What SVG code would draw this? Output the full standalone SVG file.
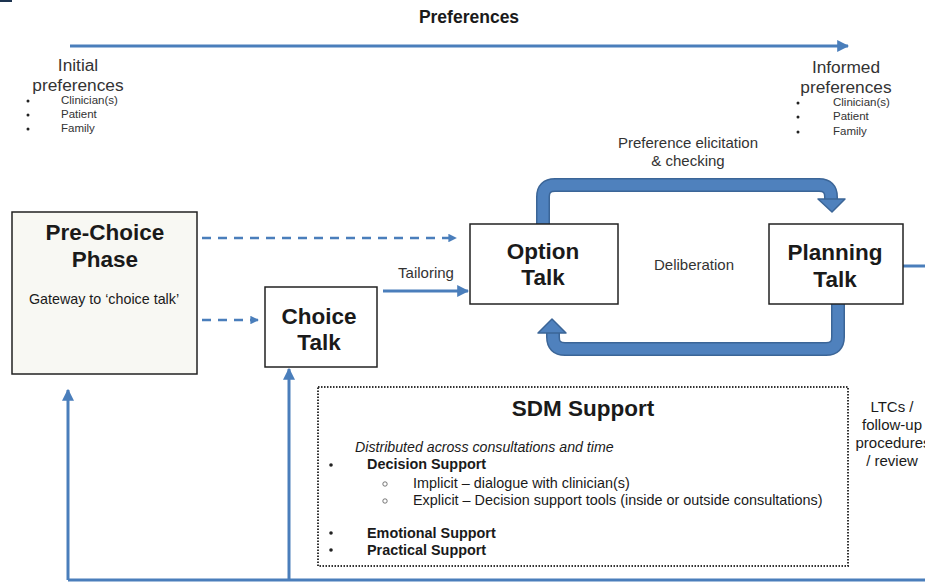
<svg xmlns="http://www.w3.org/2000/svg" width="925" height="583" viewBox="0 0 925 583">
<style>
text{font-family:"Liberation Sans",Arial,sans-serif;fill:#1a1a1a}
.box{fill:#fff;stroke:#222;stroke-width:1.5}
.title{font-weight:bold;font-size:22.5px;text-anchor:middle}
.lbl{font-size:15px;fill:#333}
.pref{font-size:17.3px;text-anchor:middle;fill:#333}
.sm{font-size:11.5px;fill:#333}
.line{fill:none;stroke:#4a7ebb;stroke-width:3}
.dash{fill:none;stroke:#4a7ebb;stroke-width:2.5;stroke-dasharray:9 7}
.band{fill:none;stroke:#3b6597;stroke-width:14}
.bandin{fill:none;stroke:#4f81bd;stroke-width:11}
.head{fill:#4f81bd;stroke:#3b6597;stroke-width:1.5;stroke-linejoin:round}
.sdm{font-size:14.4px}
.b{font-weight:bold}
</style>
<defs>
<marker id="ah" viewBox="0 0 10 10" refX="9" refY="5" markerWidth="4" markerHeight="4" orient="auto" markerUnits="strokeWidth"><path d="M0,0 L10,5 L0,10 z" fill="#4a7ebb"/></marker>
<marker id="ahs" viewBox="0 0 10 10" refX="9" refY="5" markerWidth="3.4" markerHeight="3.4" orient="auto" markerUnits="strokeWidth"><path d="M0,0 L10,5 L0,10 z" fill="#4a7ebb"/></marker>
</defs>
<rect width="925" height="583" fill="#fff"/>
<rect x="0" y="0" width="12" height="2" fill="#1d3450"/>

<g id="preferences">
<text x="469" y="23" class="b" font-size="17.5" text-anchor="middle">Preferences</text>
</g>
<g id="initial-preferences">
<text x="78" y="71" class="pref">Initial</text>
<text x="78" y="91" class="pref">preferences</text>
<circle cx="28" cy="101" r="1.5" fill="#222"/><text x="61" y="104" class="sm">Clinician(s)</text>
<circle cx="28" cy="115" r="1.5" fill="#222"/><text x="61" y="118" class="sm">Patient</text>
<circle cx="28" cy="129" r="1.5" fill="#222"/><text x="61" y="132" class="sm">Family</text>
</g>
<g id="informed-preferences">
<text x="846" y="73" class="pref">Informed</text>
<text x="846" y="93" class="pref">preferences</text>
<circle cx="798" cy="103" r="1.5" fill="#222"/><text x="833" y="106" class="sm">Clinician(s)</text>
<circle cx="798" cy="117" r="1.5" fill="#222"/><text x="833" y="120" class="sm">Patient</text>
<circle cx="798" cy="132" r="1.5" fill="#222"/><text x="833" y="135" class="sm">Family</text>
</g>

<g id="connectors">
<path class="line" d="M70,46 H848" marker-end="url(#ah)"/>
<path class="dash" d="M202,238 H456" marker-end="url(#ahs)"/>
<path class="dash" d="M202,320 H258" marker-end="url(#ahs)"/>
<path class="line" d="M383,291 H468" marker-end="url(#ah)"/>
<path class="line" d="M903,266 H925"/>
<path class="line" d="M68,580 H925"/>
<path class="line" d="M68,580 V390" marker-end="url(#ah)"/>
<path class="line" d="M289,580 V369" marker-end="url(#ah)"/>
<path class="band" d="M543,224 V197 Q543,185 555,185 H819 Q831,185 831,197 V201"/>
<path class="bandin" d="M543,224 V197 Q543,185 555,185 H819 Q831,185 831,197 V203"/>
<polygon class="head" points="818,199 845,199 832,212"/>
<path class="band" d="M838,304 V337 Q838,349 826,349 H565 Q553,349 553,337 V333"/>
<path class="bandin" d="M838,304 V337 Q838,349 826,349 H565 Q553,349 553,337 V331"/>
<polygon class="head" points="538,333 566,333 552,319"/>
<text x="688" y="148" class="lbl" text-anchor="middle">Preference elicitation</text>
<text x="688" y="166" class="lbl" text-anchor="middle">&amp; checking</text>
<text x="426" y="278" class="lbl" text-anchor="middle">Tailoring</text>
<text x="694" y="270" class="lbl" text-anchor="middle">Deliberation</text>
</g>

<g id="pre-choice">
<rect x="12" y="212" width="185" height="162" fill="#f8f8f3" stroke="#222" stroke-width="1.5"/>
<text x="105" y="240" class="title">Pre-Choice</text>
<text x="105" y="267" class="title">Phase</text>
<text x="104" y="304" font-size="14.3" text-anchor="middle" fill="#333">Gateway to ‘choice talk’</text>
</g>
<g id="choice-talk">
<rect x="265" y="287" width="112" height="80" class="box"/>
<text x="319" y="324" class="title">Choice</text>
<text x="319" y="350" class="title">Talk</text>
</g>
<g id="option-talk">
<rect x="470" y="224" width="148" height="80" class="box"/>
<text x="543" y="259" class="title">Option</text>
<text x="543" y="285" class="title">Talk</text>
</g>
<g id="planning-talk">
<rect x="769" y="224" width="134" height="80" class="box"/>
<text x="835" y="260" class="title">Planning</text>
<text x="835" y="287" class="title">Talk</text>
</g>

<g id="sdm-support">
<rect x="318" y="387" width="530" height="179" fill="none" stroke="#333" stroke-width="2" stroke-dasharray="1.5 1.5"/>
<text x="583" y="416" class="title">SDM Support</text>
<text x="355" y="452" font-size="14.2" font-style="italic" fill="#333">Distributed across consultations and time</text>
<circle cx="331" cy="465" r="1.8" fill="#222"/>
<text x="367" y="469" class="sdm b">Decision Support</text>
<circle cx="385" cy="484" r="2.2" fill="none" stroke="#555" stroke-width="0.8"/>
<text x="413" y="488" class="sdm" fill="#333">Implicit – dialogue with clinician(s)</text>
<circle cx="385" cy="501" r="2.2" fill="none" stroke="#555" stroke-width="0.8"/>
<text x="413" y="505" class="sdm" fill="#333">Explicit – Decision support tools (inside or outside consultations)</text>
<circle cx="331" cy="533" r="1.8" fill="#222"/>
<text x="367" y="538" class="sdm b">Emotional Support</text>
<circle cx="331" cy="550" r="1.8" fill="#222"/>
<text x="367" y="555" class="sdm b">Practical Support</text>
</g>

<g id="ltcs">
<text x="892" y="412" font-size="15" text-anchor="middle" fill="#333">LTCs /</text>
<text x="892" y="430" font-size="15" text-anchor="middle" fill="#333">follow-up</text>
<text x="893" y="448" font-size="15" text-anchor="middle" fill="#333">procedures</text>
<text x="892" y="466" font-size="15" text-anchor="middle" fill="#333">/ review</text>
</g>
</svg>
